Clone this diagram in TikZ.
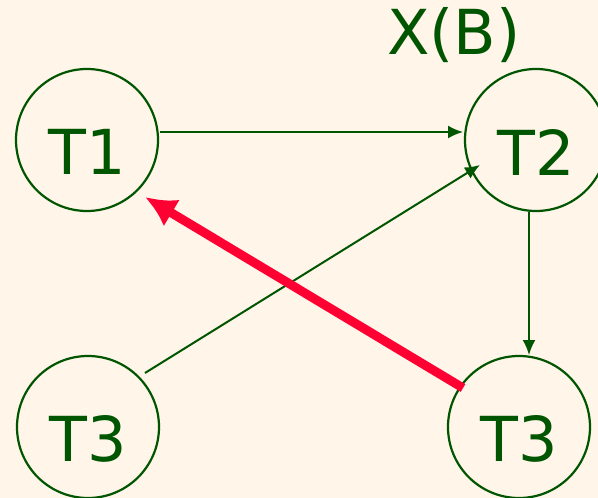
\documentclass[tikz,border=0pt]{standalone}
\usepackage{fontspec}
\setmainfont{DejaVu Sans}
\usetikzlibrary{arrows.meta,calc}
\definecolor{bg}{RGB}{255,245,233}
\definecolor{dg}{RGB}{0,85,0}
\definecolor{rd}{RGB}{255,0,51}
\begin{document}
\begin{tikzpicture}[x=1pt,y=-1pt,
  tnode/.style={circle,draw=dg,line width=2.2pt,minimum size=142pt,inner sep=0pt},
  tlabel/.style={text=dg,inner sep=0pt,font=\fontsize{62}{70}\selectfont},
  garrow/.style={draw=dg,line width=2pt,-{Latex[length=15pt,width=13pt]}},
  rarrow/.style={draw=rd,line width=9pt,-{Latex[length=31pt,width=31pt]}}]
\fill[bg] (0,0) rectangle (598,498);
\useasboundingbox (0,0) rectangle (598,498);
\node[tnode] (t1) at (87,140) {};
\node[tnode] (t2) at (536,140) {};
\node[tnode] (t3a) at (88,427) {};
\node[tnode] (t3b) at (519,427) {};
\node[tlabel] (l1) at ($(t1.center)+(0,12)$) {T1};
\node[tlabel] (l2) at ($(t2.center)+(0,12)$) {T2};
\node[tlabel] (l3a) at ($(t3a.center)+(0,12)$) {T3};
\node[tlabel] (l3b) at ($(t3b.center)+(0,12)$) {T3};
\node[tlabel] (xb) at (454,35) {X(B)};
\coordinate (a1) at ($(t1.center)+(73,-8)$);
\coordinate (a2) at ($(t2.center)+(-73,-8)$);
\coordinate (b1) at ($(t3a.center)+(57,-54)$);
\coordinate (b2) at ($(t2.center)+(-56,25)$);
\coordinate (c1) at ($(t2.center)+(-7,72)$);
\coordinate (c2) at ($(t3b.center)+(10,-72)$);
\coordinate (d1) at ($(t3b.center)+(-56,-39)$);
\coordinate (d2) at ($(t1.center)+(58,57)$);
\draw[garrow] (a1) -- (a2);
\draw[garrow] (b1) -- (b2);
\draw[garrow] (c1) -- (c2);
\draw[rarrow] (d1) -- (d2);
\end{tikzpicture}
\end{document}
